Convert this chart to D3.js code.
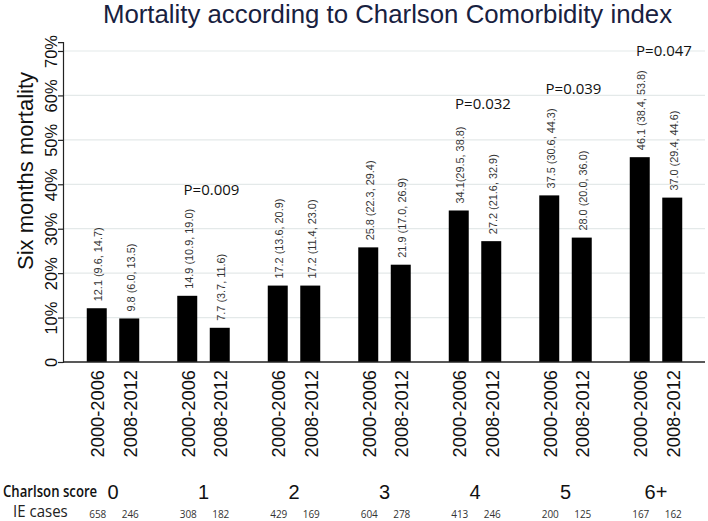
<!DOCTYPE html>
<html>
<head>
<meta charset="utf-8">
<script src="https://cdn.jsdelivr.net/npm/d3@7"></script>
<style>
  html, body { margin: 0; padding: 0; background: #fff; }
  svg { display: block; }
</style>
</head>
<body>
<div id="chart"></div>
<script>
// ---- data ----
const groups = ["0", "1", "2", "3", "4", "5", "6+"];
const periods = ["2000-2006", "2008-2012"];
const mort2000 = [12.1, 14.9, 17.2, 25.8, 34.1, 37.5, 46.1];
const mort2008 = [9.8, 7.7, 17.2, 21.9, 27.2, 28.0, 37.0];
const ci2000 = ["(9.6, 14.7)", "(10.9, 19.0)", "(13.6, 20.9)", "(22.3, 29.4)", "(29.5, 38.8)", "(30.6, 44.3)", "(38.4, 53.8)"];
const ci2008 = ["(6.0, 13.5)", "(3.7, 11.6)", "(11.4, 23.0)", "(17.0, 26.9)", "(21.6, 32.9)", "(20.0, 36.0)", "(29.4, 44.6)"];
const labelSep2000 = [" ", " ", " ", " ", "", " ", " "];
const cases2000 = [658, 308, 429, 604, 413, 200, 167];
const cases2008 = [246, 182, 169, 278, 246, 125, 162];
const yTicks = [0, 10, 20, 30, 40, 50, 60, 70];
const yTickLabels = ["0", "10%", "20%", "30%", "40%", "50%", "60%", "70%"];
const pGroups = ["1", "4", "5", "6+"];
const pLabels = ["P=0.009", "P=0.032", "P=0.039", "P=0.047"];

const title = "Mortality according to Charlson Comorbidity index";
const yTitle = "Six months mortality";

// ---- build rows ----
const rows = [];
groups.forEach((g, i) => {
  rows.push({ group: g, period: periods[0], value: mort2000[i], label: mort2000[i].toFixed(1) + labelSep2000[i] + ci2000[i], cases: cases2000[i] });
  rows.push({ group: g, period: periods[1], value: mort2008[i], label: mort2008[i].toFixed(1) + " " + ci2008[i], cases: cases2008[i] });
});

// ---- layout ----
const W = 708, H = 521;
const svg = d3.select("#chart").append("svg").attr("width", W).attr("height", H);

const x0 = d3.scaleBand().domain(groups).range([67.75, 701.25]).padding(0);
const x1 = d3.scaleBand().domain(periods).range([-32.5, 32.5]).paddingInner(0.385).paddingOuter(0.1925);
const y = d3.scaleLinear().domain([0, 72]).range([362, 362 - 72 * 4.443]);
const barCx = d => x0(d.group) + x0.bandwidth() / 2 + x1(d.period) + x1.bandwidth() / 2;
const axisLeft = 63, axisRight = 705;

// title
svg.append("text")
  .attr("x", 387.5).attr("y", 23)
  .attr("text-anchor", "middle")
  .attr("font-family", "Liberation Sans, Arial, sans-serif")
  .attr("font-size", 25.8)
  .attr("fill", "#18213f")
  .text(title);

// gridlines
svg.append("g").selectAll("line")
  .data(yTicks.filter(t => t > 0))
  .join("line")
  .attr("x1", axisLeft + 1).attr("x2", axisRight)
  .attr("y1", d => y(d)).attr("y2", d => y(d))
  .attr("stroke", "#e4e9e9").attr("stroke-width", 1.2);

// y axis
const yAxis = d3.axisLeft(y).tickValues(yTicks).tickSize(5).tickFormat((d, i) => yTickLabels[i]);
const gy = svg.append("g").attr("transform", `translate(${axisLeft},0)`).call(yAxis);
gy.select(".domain").attr("stroke", "#222").attr("stroke-width", 1.2);
gy.selectAll(".tick line").attr("stroke", "#222").attr("stroke-width", 1.2);
gy.selectAll(".tick text")
  .attr("font-family", "Liberation Sans, Arial, sans-serif")
  .attr("font-size", 16.5)
  .attr("fill", "#111")
  .attr("text-anchor", "middle")
  .attr("x", 0).attr("y", 0).attr("dy", 0)
  .attr("transform", "translate(-6,0) rotate(-90)");

// y title
svg.append("text")
  .attr("transform", "translate(33,171) rotate(-90)")
  .attr("text-anchor", "middle")
  .attr("font-family", "Liberation Sans, Arial, sans-serif")
  .attr("font-size", 22)
  .attr("fill", "#111")
  .text(yTitle);

// bars
svg.append("g").selectAll("rect")
  .data(rows)
  .join("rect")
  .attr("x", d => barCx(d) - x1.bandwidth() / 2)
  .attr("width", x1.bandwidth())
  .attr("y", d => y(d.value))
  .attr("height", d => y(0) - y(d.value))
  .attr("fill", "#000");

// x baseline
svg.append("line")
  .attr("x1", axisLeft).attr("x2", axisRight)
  .attr("y1", y(0)).attr("y2", y(0))
  .attr("stroke", "#222").attr("stroke-width", 1.4);

// bar value labels
svg.append("g").selectAll("text")
  .data(rows)
  .join("text")
  .attr("transform", d => `translate(${barCx(d) + 1.5},${y(d.value) - 7}) rotate(-90)`)
  .attr("dy", "0.35em")
  .attr("text-anchor", "start")
  .attr("font-family", "Liberation Sans, Arial, sans-serif")
  .attr("font-size", 10.9)
  .attr("fill", "#333")
  .text(d => d.label);

// period labels
svg.append("g").selectAll("text")
  .data(rows)
  .join("text")
  .attr("transform", d => `translate(${barCx(d) + 1},${370}) rotate(-90)`)
  .attr("dy", "0.35em")
  .attr("text-anchor", "end")
  .attr("font-family", "Liberation Sans, Arial, sans-serif")
  .attr("font-size", 18.3)
  .attr("fill", "#111")
  .text(d => d.period);

// P values
svg.append("g").selectAll("text")
  .data(pGroups.map((g, i) => ({ group: g, label: pLabels[i], max: Math.max(mort2000[groups.indexOf(g)], mort2008[groups.indexOf(g)]) })))
  .join("text")
  .attr("x", d => x0(d.group) + x0.bandwidth() / 2 + 8)
  .attr("y", d => y(d.max) - 101)
  .attr("text-anchor", "middle")
  .attr("font-family", "Open Sans, Noto Sans, sans-serif")
  .attr("font-size", 15)
  .attr("fill", "#111")
  .text(d => d.label);

// Charlson score row
svg.append("text")
  .attr("transform", "translate(3,497) scale(0.85,1)")
  .attr("font-family", "Open Sans, Noto Sans, sans-serif")
  .attr("font-weight", 600)
  .attr("font-size", 15.5)
  .attr("fill", "#111")
  .text("Charlson score");

svg.append("g").selectAll("text")
  .data(groups)
  .join("text")
  .attr("x", d => x0(d) + x0.bandwidth() / 2)
  .attr("y", 499)
  .attr("text-anchor", "middle")
  .attr("font-family", "Liberation Sans, Arial, sans-serif")
  .attr("font-size", 20)
  .attr("fill", "#111")
  .text(d => d);

// IE cases row
svg.append("text")
  .attr("transform", "translate(13,517) scale(0.97,1)")
  .attr("font-family", "Open Sans, Noto Sans, sans-serif")
  .attr("font-size", 15.5)
  .attr("fill", "#222")
  .text("IE cases");

svg.append("g").selectAll("text")
  .data(rows)
  .join("text")
  .attr("x", d => barCx(d) + 1)
  .attr("y", 518)
  .attr("text-anchor", "middle")
  .attr("font-family", "Open Sans, Noto Sans, sans-serif")
  .attr("font-size", 10)
  .attr("fill", "#333")
  .text(d => d.cases);
</script>
</body>
</html>
